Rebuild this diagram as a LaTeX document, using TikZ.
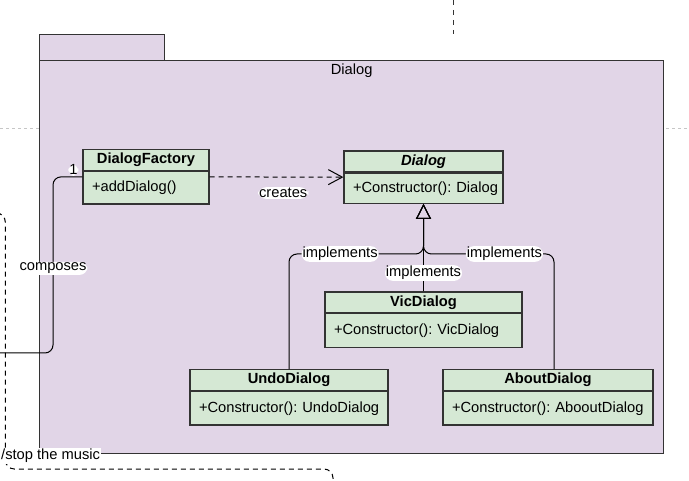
\documentclass[tikz,border=0pt]{standalone}
\usepackage{fontspec}
\setmainfont{Liberation Sans}
\usepackage{tikz}
\usetikzlibrary{positioning}
\usetikzlibrary{arrows.meta, calc}
\definecolor{pkgfill}{HTML}{E1D5E7}
\definecolor{clsfill}{HTML}{D5E8D4}
\definecolor{edge}{HTML}{333333}

\begin{document}
\begin{tikzpicture}[x=1pt, y=-1pt, font=\fontsize{14.7}{17}\selectfont\frenchspacing,
    pkg/.style={draw=edge, fill=pkgfill, line width=1.3pt, inner sep=0pt, anchor=north west},
    classhead/.style={draw=edge, fill=clsfill, line width=1.3pt, minimum width=#1, minimum height=20.5pt, inner sep=0pt, font=\fontsize{14.7}{17}\selectfont\bfseries},
    classbody/.style={draw=edge, fill=clsfill, line width=1.3pt, text width=#1, minimum height=33.5pt, inner xsep=9pt, inner ysep=0pt, align=left, font={\fontsize{14.7}{17}\selectfont\frenchspacing\hfuzz=20pt\relax}},
    lbl/.style={fill=white, inner sep=1pt},
    link/.style={draw=black, line width=1pt, rounded corners=8pt},
    realize/.style={link, -{Triangle[open, length=15pt, width=15pt]}},
    depend/.style={link, dash pattern=on 5pt off 4pt, -{Straight Barb[length=14pt, width=15pt]}}]
    \useasboundingbox (0,0) rectangle (689,481);
    \draw[gray!45, dash pattern=on 3pt off 3pt, line width=0.8pt] (0,128) -- (689,128);
    \draw[edge, dash pattern=on 5pt off 5pt, line width=1pt] (453,0) -- (453,34);

    \node[pkg, minimum width=125pt, minimum height=26pt] (pkgtab) at (39,34) {};
    \node[pkg, minimum width=624pt, minimum height=393pt] (pkgbody) at (39,60) {};
    \node[below=0pt of pkgbody.north] (pkgname) {Dialog};

    \node[classhead=126pt] (factoryhead) at (146,160) {DialogFactory};
    \node[classbody=108pt, minimum height=32.5pt, below=0pt of factoryhead] (factorybody) {+addDialog()};
    \node[classhead=159pt, minimum height=21pt] (dialoghead) at (423.5,161.5) {\textit{Dialog}};
    \node[classbody=141pt, minimum height=30pt, below=0pt of dialoghead] (dialogbody) {\mbox{+Constructor(): Dialog}};
    \node[classhead=197pt] (vichead) at (423.5,302.3) {VicDialog};
    \node[classbody=179pt, below=0pt of vichead] (vicbody) {+Constructor(): VicDialog};
    \node[classhead=198pt] (undohead) at (289,380) {UndoDialog};
    \node[classbody=180pt, below=0pt of undohead] (undobody) {\mbox{+Constructor(): UndoDialog}};
    \node[classhead=210pt] (abouthead) at (548,380) {AboutDialog};
    \node[classbody=192pt, below=0pt of abouthead] (aboutbody) {\mbox{+Constructor(): AbooutDialog}};

    \coordinate (factoryW) at ($(factoryhead.north west)!.5!(factorybody.south west)$);
    \coordinate (factoryE) at ($(factoryhead.north east)!.5!(factorybody.south east)$);
    \coordinate (dialogW) at ($(dialoghead.north west)!.5!(dialogbody.south west)$);
    \coordinate (fork) at (423.5,254);
    \coordinate (composebend) at (53,353);
    \coordinate (composeout) at (-10,353);

    \draw[depend] (factoryE) -- node[lbl, pos=0.55, yshift=-16pt] {creates} (dialogW);
    \draw[link] (factoryW) node[lbl, xshift=-9pt, yshift=7pt] {1} -| node[lbl, pos=0.76] {composes} (composebend) -- (composeout);
    \draw[realize] (vichead.north) -- node[lbl, pos=0.21] {implements} (dialogbody.south);
    \draw[realize] (undohead.north) |- node[lbl, pos=0.69] {implements} (fork) -- (dialogbody.south);
    \draw[realize] ([xshift=6pt]abouthead.north) |- node[lbl, pos=0.69] {implements} (fork) -- (dialogbody.south);

    \draw[link, dash pattern=on 5pt off 4pt, rounded corners=9pt] (-30,213) -- (5.3,213) -- (5.3,469) -- (333,469) -- (333,500);
    \node[lbl, anchor=west] (stoplabel) at (0,456) {/stop the music};
\end{tikzpicture}
\end{document}
